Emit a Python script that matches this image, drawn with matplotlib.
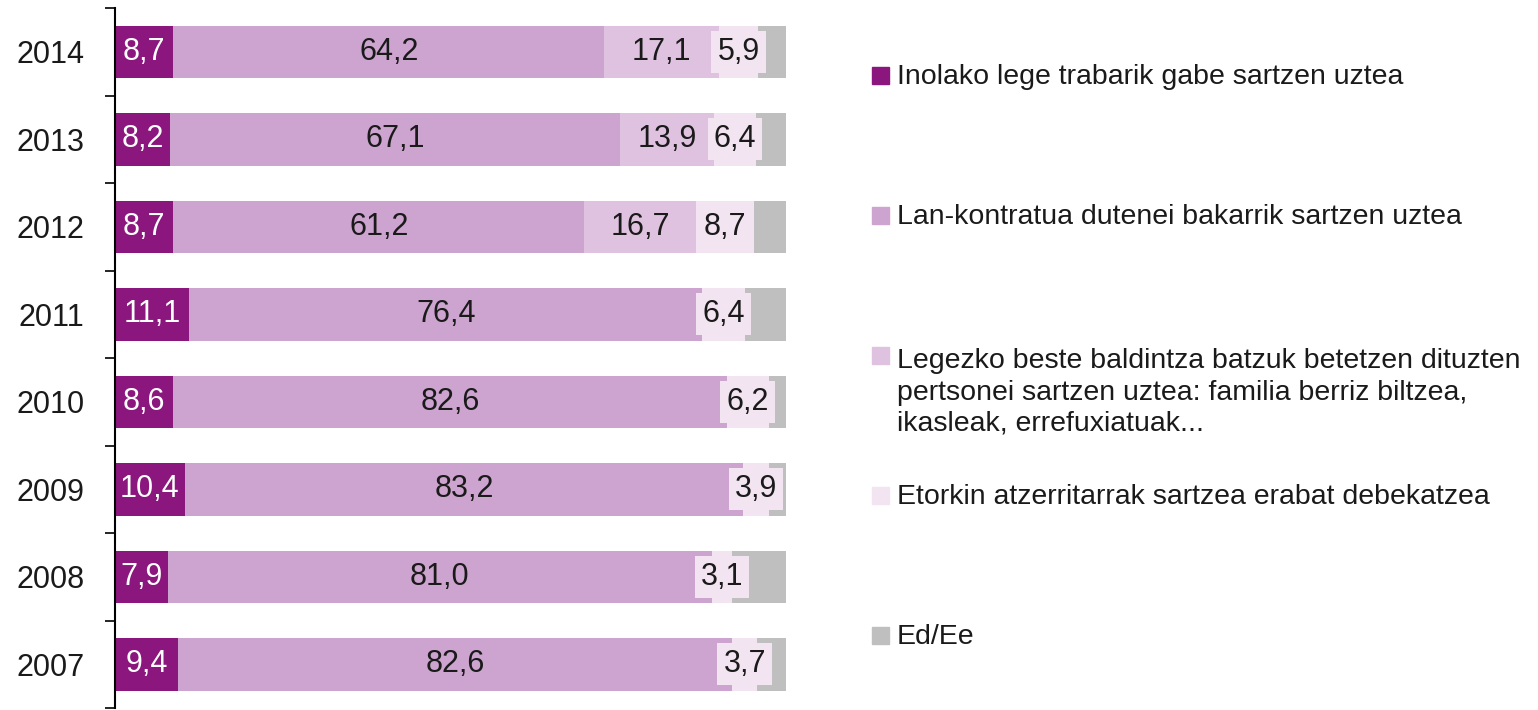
import numpy as np
import matplotlib
matplotlib.use('Agg')
from matplotlib import pyplot as plt
from matplotlib.patches import Rectangle

# data
years = ['2014', '2013', '2012', '2011', '2010', '2009', '2008', '2007']
inolako = [8.7, 8.2, 8.7, 11.1, 8.6, 10.4, 7.9, 9.4]
lan = [64.2, 67.1, 61.2, 76.4, 82.6, 83.2, 81.0, 82.6]
legezko = [17.1, 13.9, 16.7, 0, 0, 0, 0, 0]
etorkin = [5.9, 6.4, 8.7, 6.4, 6.2, 3.9, 3.1, 3.7]
edee = [4.1, 4.4, 4.7, 6.1, 2.6, 2.5, 8.0, 4.3]

labels = ['Inolako lege trabarik gabe sartzen uztea',
          'Lan-kontratua dutenei bakarrik sartzen uztea',
          'Legezko beste baldintza batzuk betetzen dituzten\npertsonei sartzen uztea: familia berriz biltzea,\nikasleak, errefuxiatuak...',
          'Etorkin atzerritarrak sartzea erabat debekatzea',
          'Ed/Ee']
colors = ['#8b167d', '#cda3cf', '#dfc2e0', '#f2e4f1', '#bfbfbf']

plt.rcParams['font.family'] = ['Liberation Sans', 'DejaVu Sans']

W, H = 1538, 710
fig = plt.figure(figsize=(W / 100, H / 100), dpi=100)
ax = fig.add_axes([115 / W, 2 / H, (786 - 115) / W, 700 / H])

y = np.arange(len(years))[::-1]
series = [inolako, lan, legezko, etorkin, edee]
left = np.zeros(len(years))
for k, (vals, col) in enumerate(zip(series, colors)):
    vals = np.array(vals, dtype=float)
    ax.barh(y, vals, left=left, height=0.6, color=col, edgecolor='none')
    if k < 4:
        for yi, l, v in zip(y, left, vals):
            if v == 0:
                continue
            txt = f'{v:.1f}'.replace('.', ',')
            cx = l + v / 2
            if k == 0:
                ax.text(cx, yi, txt, ha='center', va='center', fontsize=22, color='white')
            elif k == 3:
                ax.text(cx, yi, txt, ha='center', va='center', fontsize=22, color='#1a1a1a',
                        bbox=dict(boxstyle='square,pad=0.2', fc=col, ec='none'))
            else:
                ax.text(cx, yi, txt, ha='center', va='center', fontsize=22, color='#1a1a1a')
    left = left + vals

ax.set_xlim(0, 100)
ax.set_ylim(-0.5, len(years) - 0.5)
ax.set_yticks(y)
ax.set_yticklabels(years, fontsize=22, color='#1a1a1a')
ax.set_yticks(np.arange(-0.5, len(years), 1), minor=True)
ax.tick_params(axis='y', which='major', length=0, pad=22)
ax.tick_params(axis='y', which='minor', length=7.5, width=1.2, direction='out')
ax.set_xticks([])
for s in ['top', 'right', 'bottom']:
    ax.spines[s].set_visible(False)
ax.spines['left'].set_linewidth(1.5)

# legend drawn by hand, one entry every ~140 px (baseline of first line)
for i, (lab, col) in enumerate(zip(labels, colors)):
    base = 84 + 140 * i
    nlines = lab.count('\n')
    fig.patches.append(Rectangle((872 / W, 1 - base / H), 17 / W, 17 / H,
                                 transform=fig.transFigure, color=col))
    # va='baseline' puts the last line on the given y
    fig.text(897 / W, 1 - (base + 33.5 * nlines) / H, lab, ha='left', va='baseline',
             fontsize=20.5, color='#1a1a1a', linespacing=1.27)

fig.savefig('out.png', dpi=100)
